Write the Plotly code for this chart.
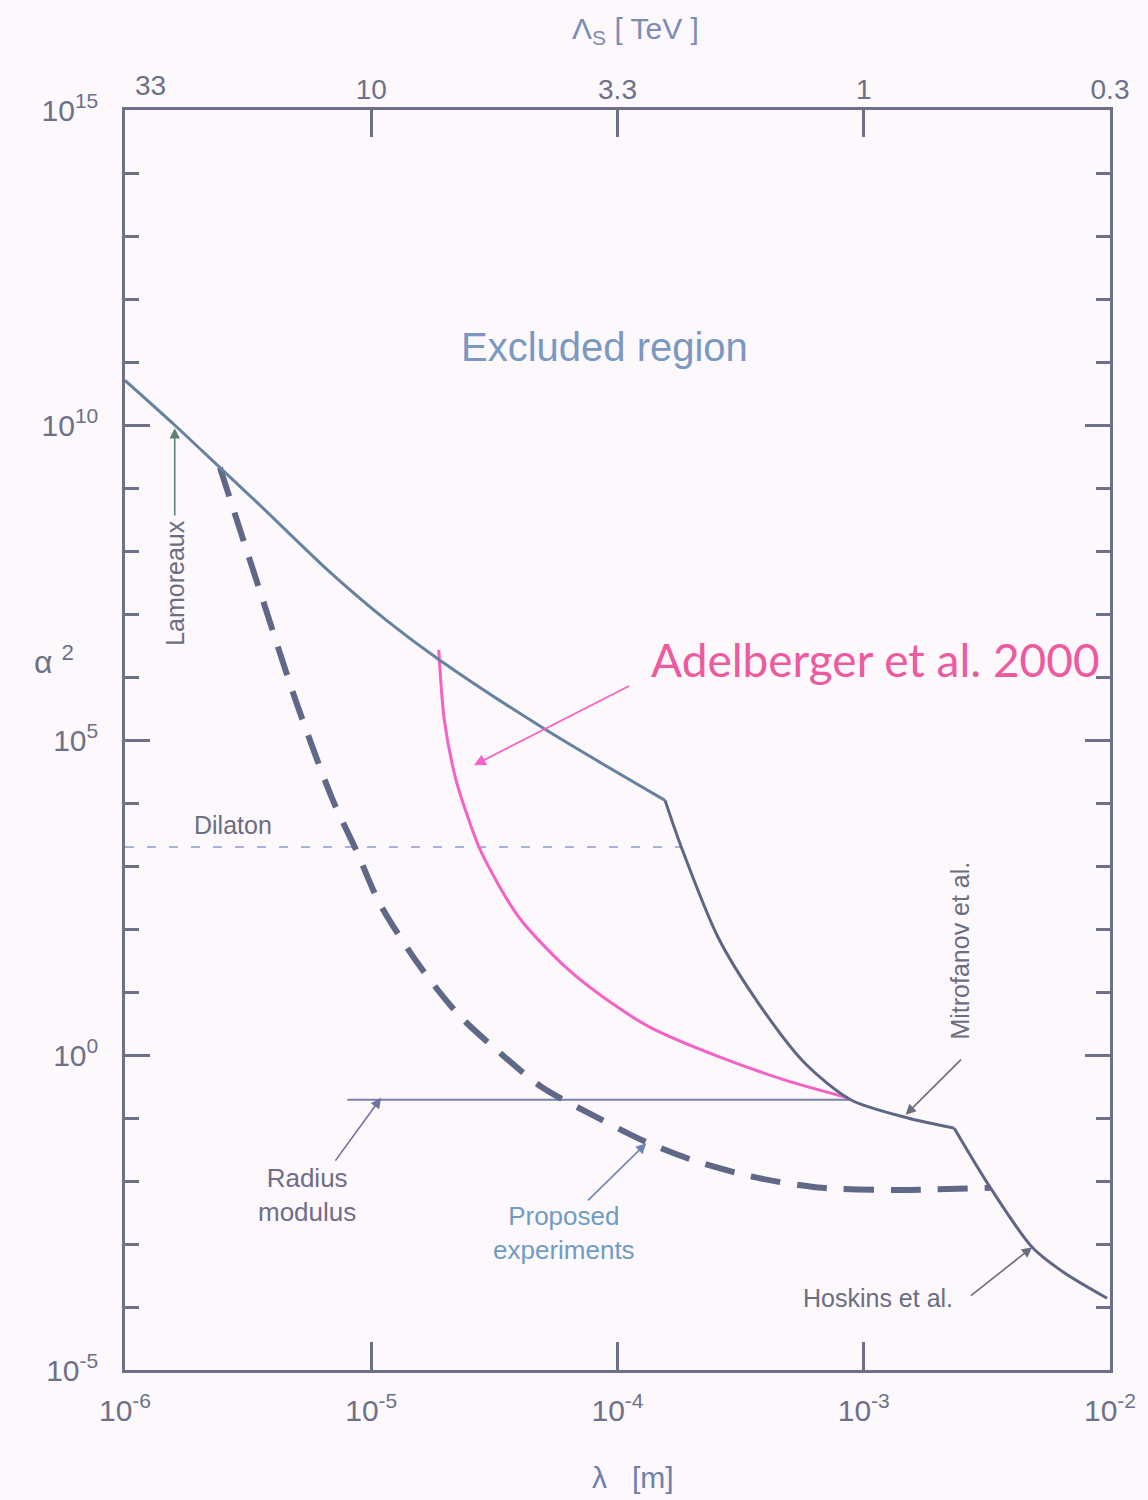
import plotly.graph_objects as go

# ---- data (λ in metres, α² dimensionless) ----
# Upper boundary of the excluded region (Lamoreaux / Adelberger / Mitrofanov / Hoskins)
excl_lambda = [1.0e-6, 1.59e-6, 2.43e-6, 3.52e-6, 6.76e-6, 1.15e-5, 1.88e-5, 5.12e-5,
               1.56e-4, 1.82e-4, 2.56e-4, 3.72e-4, 5.77e-4, 8.85e-4, 1.51e-3, 2.33e-3,
               3.27e-3, 4.83e-3, 6.52e-3, 9.73e-3]
excl_alpha2 = [5.1e10, 1.0e10, 2.1e9, 5.4e8, 4.7e7, 8.0e6, 1.9e6, 1.45e5,
               1.1e4, 1.95e3, 74, 6.8, 0.74, 0.195, 0.10, 0.069,
               7.8e-3, 8.9e-4, 3.5e-4, 1.38e-4]
# indices where the boundary changes experiment (sharp corners)
excl_corners = [8, 15]

# Sensitivity of proposed experiments
prop_lambda = [2.43e-6, 3.52e-6, 4.97e-6, 7.01e-6, 8.69e-6, 1.08e-5, 1.56e-5, 2.27e-5,
               3.30e-5, 4.92e-5, 8.15e-5, 1.30e-4, 2.13e-4, 3.72e-4, 6.52e-4, 1.37e-3,
               3.27e-3]
prop_alpha2 = [2.1e9, 2.4e7, 3.9e5, 1.07e4, 1.78e3, 257, 27, 4.3,
               1.12, 0.31, 0.105, 0.042, 0.020, 0.0112, 7.9e-3, 7.2e-3,
               7.8e-3]

# Adelberger et al. 2000 limit
adel_lambda = [1.88e-5, 1.98e-5, 2.21e-5, 2.49e-5, 2.81e-5, 3.97e-5, 6.34e-5, 1.01e-4,
               1.37e-4, 2.56e-4, 4.79e-4, 8.61e-4]
adel_alpha2 = [2.7e6, 2.1e5, 2.3e4, 5.4e3, 1.6e3, 155, 22.4, 5.6,
               2.7, 0.95, 0.40, 0.21]

# Theory predictions
dilaton_lambda = [1.0e-6, 1.8e-4]
dilaton_alpha2 = [2.0e3, 2.0e3]
radius_lambda = [8.0e-6, 8.85e-4]
radius_alpha2 = [0.195, 0.195]

# Axis ticks
x_ticks = [1e-6, 1e-5, 1e-4, 1e-3, 1e-2]
x_ticktext = ["10<sup>-6</sup>", "10<sup>-5</sup>", "10<sup>-4</sup>",
              "10<sup>-3</sup>", "10<sup>-2</sup>"]
top_ticks = [1e-5, 1e-4, 1e-3, 1e-2]
top_ticktext = ["10", "3.3", "1", "0.3"]
top_first_label = "33"
y_major = [1e-5, 1e0, 1e5, 1e10, 1e15]
y_major_text = ["10<sup>-5</sup>", "10<sup>0</sup>", "10<sup>5</sup>",
                "10<sup>10</sup>", "10<sup>15</sup>"]
y_minor = [10.0 ** k for k in range(-5, 16)]

# ---- styling ----
FONT = "Liberation Sans"
AXIS = "#6c7189"
CURVE_LEFT = "#6682a2"
CURVE_RIGHT = "#5e6686"
PINK = "#f462c6"
INK_PINK = "#ee5a9f"
BG = "#fdf8fc"

fig = go.Figure()

fig.add_trace(go.Scatter(x=dilaton_lambda, y=dilaton_alpha2, mode="lines",
                         line=dict(color="#8a9acb", width=1.6, dash="9px,13px"),
                         showlegend=False, hoverinfo="skip"))
fig.add_trace(go.Scatter(x=radius_lambda, y=radius_alpha2, mode="lines",
                         line=dict(color="#7882aa", width=1.8),
                         showlegend=False, hoverinfo="skip"))
fig.add_trace(go.Scatter(x=prop_lambda, y=prop_alpha2, mode="lines",
                         line=dict(color="#5f6886", width=6, dash="30px,17px",
                                   shape="spline", smoothing=0.8),
                         showlegend=False, hoverinfo="skip"))
fig.add_trace(go.Scatter(x=adel_lambda, y=adel_alpha2, mode="lines",
                         line=dict(color=PINK, width=3, shape="spline", smoothing=0.8),
                         showlegend=False, hoverinfo="skip"))

# excluded-region boundary: smooth pieces joined at sharp corners
bounds = [0] + excl_corners + [len(excl_lambda) - 1]
for i in range(len(bounds) - 1):
    a, b = bounds[i], bounds[i + 1]
    fig.add_trace(go.Scatter(x=excl_lambda[a:b + 1], y=excl_alpha2[a:b + 1], mode="lines",
                             line=dict(color=CURVE_LEFT if i == 0 else CURVE_RIGHT,
                                       width=3, shape="spline", smoothing=0.8),
                             showlegend=False, hoverinfo="skip"))

# empty trace so the top/right companion axes get drawn
fig.add_trace(go.Scatter(x=[], y=[], xaxis="x2", yaxis="y2",
                         showlegend=False, hoverinfo="skip"))

tickfont = dict(family=FONT, size=30, color=AXIS)

fig.update_layout(
    width=1148, height=1500,
    margin=dict(l=125, r=35, t=110, b=130),
    paper_bgcolor=BG, plot_bgcolor=BG,
    xaxis=dict(type="log", range=[-6, -2], tickvals=x_ticks, ticktext=x_ticktext,
               ticks="inside", ticklen=28, tickwidth=2.5, tickcolor=AXIS,
               showline=True, linecolor=AXIS, linewidth=2.5, mirror=True,
               showgrid=False, zeroline=False, tickfont=tickfont,
               ticklabelstandoff=12),
    xaxis2=dict(type="log", range=[-6, -2], overlaying="x", side="top", anchor="y",
                tickvals=top_ticks, ticktext=top_ticktext,
                ticks="inside", ticklen=27, tickwidth=2.5, tickcolor=AXIS,
                showline=False, showgrid=False, zeroline=False,
                tickfont=dict(family=FONT, size=28, color=AXIS), ticklabelstandoff=4),
    yaxis=dict(type="log", range=[-5, 15], tickvals=y_major, ticktext=y_major_text,
               ticks="inside", ticklen=25, tickwidth=2.5, tickcolor=AXIS,
               minor=dict(tickvals=y_minor, ticks="inside", ticklen=14,
                          tickwidth=2.5, tickcolor=AXIS),
               showline=True, linecolor=AXIS, linewidth=2.5, mirror=True,
               showgrid=False, zeroline=False, tickfont=tickfont,
               ticklabelstandoff=18),
    yaxis2=dict(type="log", range=[-5, 15], overlaying="y", side="right", anchor="x",
                tickvals=y_major, showticklabels=False,
                ticks="inside", ticklen=25, tickwidth=2.5, tickcolor=AXIS,
                minor=dict(tickvals=y_minor, ticks="inside", ticklen=14,
                           tickwidth=2.5, tickcolor=AXIS),
                showline=False, showgrid=False, zeroline=False),
)

ann = []


def label(text, x, y, size=26, color="#6a6e80", angle=0, family=FONT):
    ann.append(dict(text=text, x=x, y=y, xref="x", yref="y", showarrow=False,
                    textangle=angle, font=dict(family=family, size=size, color=color)))


def arrow(x_head, y_head, x_tail, y_tail, color="#6a6e80", width=1.6):
    ann.append(dict(text="", x=x_head, y=y_head, ax=x_tail, ay=y_tail,
                    xref="x", yref="y", axref="x", ayref="y",
                    showarrow=True, arrowhead=2, arrowsize=1.3, arrowwidth=width,
                    arrowcolor=color))


# positions below are log10 values on the log axes
label("Excluded region", -4.053, 11.24, size=40, color="#7b98c0")
label("Dilaton", -5.563, 3.65, size=25)
label("Lamoreaux", -5.798, 7.49, size=25, angle=-90)
arrow(-5.798, 9.95, -5.798, 8.54, color="#5c8272")
label("Mitrofanov et al.", -2.607, 1.65, size=25, angle=-90)
arrow(-2.830, -0.95, -2.599, -0.05)
label("Hoskins et al.", -2.943, -3.86, size=25)
arrow(-2.316, -3.05, -2.571, -3.84)
label("Radius<br>modulus", -5.259, -2.22, size=26, color="#6e6c8a")
arrow(-4.960, -0.68, -5.150, -1.70, color="#6e72a0")
label("Proposed<br>experiments", -4.219, -2.83, size=26, color="#6e9cc4")
arrow(-3.883, -1.40, -4.126, -2.33, color="#6e86b4")
label("Adelberger et al. 2000", -2.951, 6.27, size=46, color=INK_PINK, family="Lato")
arrow(-4.583, 4.60, -3.947, 5.87, color=PINK, width=1.8)

# axis titles and the first top-axis label
ann.append(dict(text="Λ<sub>S</sub> [ TeV ]", x=0.518, y=1.063, xref="paper", yref="paper",
                yanchor="middle", showarrow=False,
                font=dict(family=FONT, size=30, color="#7a8cb8")))
ann.append(dict(text="λ   [m]", x=0.516, y=-0.0857, xref="paper", yref="paper",
                yanchor="middle", showarrow=False,
                font=dict(family=FONT, size=30, color="#6c80ae")))
ann.append(dict(text="α <sup>2</sup>", x=-0.094, y=0.5635, xref="paper", yref="paper",
                yanchor="middle", showarrow=False,
                font=dict(family=FONT, size=32, color=AXIS)))
ann.append(dict(text=top_first_label, x=-5.895, y=1.0198, xref="x", yref="paper",
                showarrow=False, yanchor="middle",
                font=dict(family=FONT, size=28, color=AXIS)))

fig.update_layout(annotations=ann)

fig.write_html("out.html")
